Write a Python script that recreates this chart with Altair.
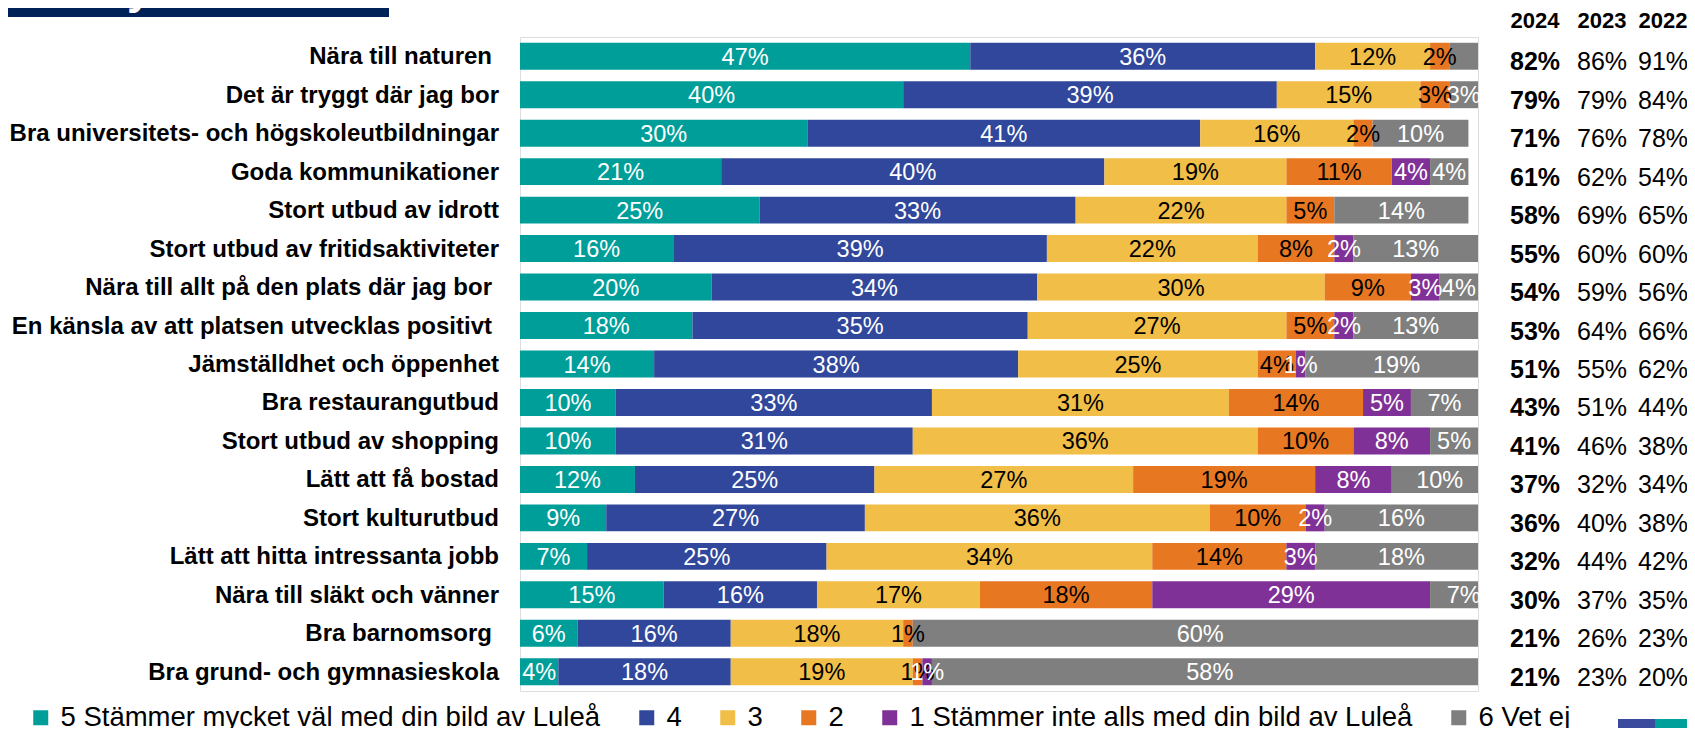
import altair as alt
import pandas as pd

categories = [
    "Nära till naturen",
    "Det är tryggt där jag bor",
    "Bra universitets- och högskoleutbildningar",
    "Goda kommunikationer",
    "Stort utbud av idrott",
    "Stort utbud av fritidsaktiviteter",
    "Nära till allt på den plats där jag bor",
    "En känsla av att platsen utvecklas positivt",
    "Jämställdhet och öppenhet",
    "Bra restaurangutbud",
    "Stort utbud av shopping",
    "Lätt att få bostad",
    "Stort kulturutbud",
    "Lätt att hitta intressanta jobb",
    "Nära till släkt och vänner",
    "Bra barnomsorg",
    "Bra grund- och gymnasieskola",
]
# labels that carry a trailing space in the original
trailing_space = {
    "Nära till naturen",
    "Nära till allt på den plats där jag bor",
    "En känsla av att platsen utvecklas positivt",
    "Bra barnomsorg",
}

series = [
    "5 Stämmer mycket väl med din bild av Luleå",
    "4",
    "3",
    "2",
    "1 Stämmer inte alls med din bild av Luleå",
    "6 Vet ej",
]
s5 = [47, 40, 30, 21, 25, 16, 20, 18, 14, 10, 10, 12, 9, 7, 15, 6, 4]
s4 = [36, 39, 41, 40, 33, 39, 34, 35, 38, 33, 31, 25, 27, 25, 16, 16, 18]
s3 = [12, 15, 16, 19, 22, 22, 30, 27, 25, 31, 36, 27, 36, 34, 17, 18, 19]
s2 = [2, 3, 2, 11, 5, 8, 9, 5, 4, 14, 10, 19, 10, 14, 18, 1, 1]
s1 = [0, 0, 0, 4, 0, 2, 3, 2, 1, 5, 8, 8, 2, 3, 29, 0, 1]
s6 = [3, 3, 10, 4, 14, 13, 4, 13, 19, 7, 5, 10, 16, 18, 7, 60, 58]
hidden_labels = {("Nära till naturen", "6 Vet ej")}

years = ["2024", "2023", "2022"]
v2024 = [82, 79, 71, 61, 58, 55, 54, 53, 51, 43, 41, 37, 36, 32, 30, 21, 21]
v2023 = [86, 79, 76, 62, 69, 60, 59, 64, 55, 51, 46, 32, 40, 44, 37, 26, 23]
v2022 = [91, 84, 78, 54, 65, 60, 56, 66, 62, 44, 38, 34, 38, 42, 35, 23, 20]

# styles
bar_colors = ["#009E99", "#30479B", "#F1BE48", "#E87722", "#7F3197", "#7F7F7F"]
text_colors = ["white", "white", "black", "black", "white", "white"]
FONT = "Liberation Sans"

rows = []
all_series = [s5, s4, s3, s2, s1, s6]
for i, cat in enumerate(categories):
    cum = 0
    for j, name in enumerate(series):
        v = all_series[j][i]
        if v > 0:
            rows.append({
                "cat": cat, "series": name, "order": j, "value": v,
                "start": cum, "end": cum + v, "mid": cum + v / 2,
                "lbl": "" if (cat, name) in hidden_labels else f"{v}%",
                "tcolor": text_colors[j],
            })
        cum += v
seg = pd.DataFrame(rows)

cat_df = pd.DataFrame({
    "cat": categories,
    "trail": [c in trailing_space for c in categories],
    "y2024": [f"{v}%" for v in v2024],
    "y2023": [f"{v}%" for v in v2023],
    "y2022": [f"{v}%" for v in v2022],
})

Y = alt.Y("cat:N", sort=categories, axis=None,
          scale=alt.Scale(paddingInner=0.3, paddingOuter=0.15))
XS = alt.Scale(domain=[0, 100], nice=False, zero=True)

bars = alt.Chart(seg).mark_bar(clip=True).encode(
    y=Y,
    x=alt.X("start:Q", scale=XS, axis=None),
    x2="end:Q",
    color=alt.Color(
        "series:N",
        scale=alt.Scale(domain=series, range=bar_colors),
        legend=alt.Legend(
            orient="none", legendX=-493, legendY=667, direction="horizontal",
            columns=6, title=None, symbolType="square", symbolSize=225,
            symbolStrokeWidth=0, labelFontSize=27.5, labelFont=FONT,
            labelColor="black", columnPadding=32, labelOffset=6,
            labelLimit=800, padding=0, gridAlign="none",
        ),
    ),
)

seg_labels = alt.Chart(seg).mark_text(
    fontSize=23.5, font=FONT, baseline="alphabetic", dy=8.5
).encode(
    y=alt.Y("cat:N", sort=categories),
    x=alt.X("mid:Q", scale=XS),
    text="lbl:N",
    color=alt.Color("tcolor:N", scale=None),
)

label_style = dict(align="right", baseline="alphabetic", dy=8, fontSize=24,
                   fontWeight="bold", font=FONT, color="black")
cat_labels = alt.Chart(cat_df).transform_filter("!datum.trail").mark_text(
    **label_style
).encode(y=alt.Y("cat:N", sort=categories), x=alt.value(-21), text="cat:N")
cat_labels_sp = alt.Chart(cat_df).transform_filter("datum.trail").mark_text(
    **label_style
).encode(y=alt.Y("cat:N", sort=categories), x=alt.value(-28), text="cat:N")

layers = [bars, seg_labels, cat_labels, cat_labels_sp]
col_x = [1015, 1082, 1143]
for k, yr in enumerate(years):
    layers.append(
        alt.Chart(pd.DataFrame({"t": [yr]})).mark_text(
            fontSize=22, fontWeight="bold", font=FONT, color="black",
            baseline="alphabetic", align="center"
        ).encode(x=alt.value(col_x[k]), y=alt.value(-9), text="t:N")
    )
    layers.append(
        alt.Chart(cat_df).mark_text(
            fontSize=25, fontWeight="bold" if k == 0 else "normal", font=FONT,
            color="black", baseline="alphabetic", align="center", dy=14
        ).encode(
            y=alt.Y("cat:N", sort=categories),
            x=alt.value(col_x[k]),
            text=f"y{yr}:N",
        )
    )

deco = pd.DataFrame({"a": [0]})
title_box = alt.Chart(deco).mark_rect(color="#002157").encode(
    x=alt.value(-520), x2=alt.value(-131), y=alt.value(-37), y2=alt.value(-20)
)
title_text = alt.Chart(pd.DataFrame({"t": ["Inflyttade"]})).mark_text(
    fontSize=44, fontWeight="bold", font=FONT, color="white",
    align="left", baseline="alphabetic"
).encode(x=alt.value(-459), y=alt.value(-33), text="t:N")
logo_a = alt.Chart(deco).mark_rect(color="#3A4A9C").encode(
    x=alt.value(1098), x2=alt.value(1140), y=alt.value(682), y2=alt.value(692)
)
logo_b = alt.Chart(deco).mark_rect(color="#00A09A").encode(
    x=alt.value(1135), x2=alt.value(1167), y=alt.value(682), y2=alt.value(692)
)

chart = alt.layer(title_box, title_text, logo_a, logo_b, *layers).properties(
    width=958,
    height=654,
    padding={"left": 512, "top": 29, "right": 209, "bottom": 37},
    autosize=alt.AutoSizeParams(type="none"),
).configure_view(stroke="transparent").configure(font=FONT)

chart.save("out.html", embed_options={"renderer": "svg", "actions": False})
